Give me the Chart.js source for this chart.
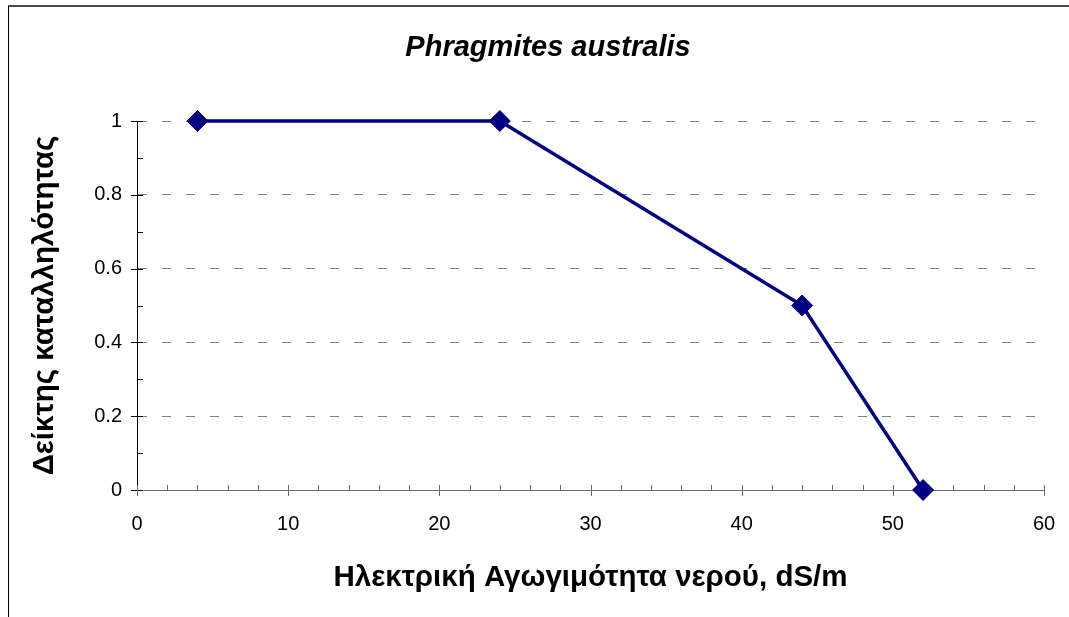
<!DOCTYPE html>
<html>
<head>
<meta charset="utf-8">
<script src="https://cdn.jsdelivr.net/npm/chart.js@4"></script>
<style>
  html, body { margin: 0; padding: 0; background: #fff; overflow: hidden; }
  #wrap { width: 1069px; height: 617px; position: relative; }
</style>
</head>
<body>
<div id="wrap"><canvas id="c" width="1069" height="617"></canvas></div>
<script>
// Salinity tolerance of common reed: suitability index vs. water conductivity
const conductivity = [4, 24, 44, 52];      // dS/m
const suitability  = [1, 1, 0.5, 0];       // index 0..1
const xTickValues  = [0, 10, 20, 30, 40, 50, 60];
const yTickValues  = [0, 0.2, 0.4, 0.6, 0.8, 1];
const yTickLabels  = ['0', '0.2', '0.4', '0.6', '0.8', '1'];
const chartTitle   = 'Phragmites australis';
const yAxisTitle   = 'Δείκτης καταλληλότητας';
const xAxisTitle   = 'Ηλεκτρική Αγωγιμότητα νερού, dS/m';

const FONT = '"Liberation Sans", Arial, sans-serif';

// White background, the outer frame and the italic title
const framePlugin = {
  id: 'frame',
  beforeDraw(chart) {
    const ctx = chart.ctx;
    ctx.save();
    ctx.fillStyle = '#ffffff';
    ctx.fillRect(0, 0, chart.width, chart.height);
    ctx.fillStyle = '#4a4a4a';
    ctx.fillRect(8, 5, chart.width - 8, 2);
    ctx.fillStyle = '#000000';
    ctx.fillRect(8, 6, 1, chart.height - 6);
    ctx.restore();
  },
  afterDraw(chart) {
    const ctx = chart.ctx;
    ctx.save();
    ctx.fillStyle = '#000000';
    ctx.font = 'italic bold 29px ' + FONT;
    ctx.textAlign = 'center';
    ctx.textBaseline = 'middle';
    ctx.fillText(chartTitle, 548, 48);
    ctx.restore();
  }
};

// Major (crossing) and minor (inside) tick marks on both axes
const tickMarks = {
  id: 'tickMarks',
  beforeDatasetsDraw(chart) {
    const ctx = chart.ctx;
    const xs = chart.scales.x, ys = chart.scales.y;
    const x0 = xs.getPixelForValue(xs.min);
    const y0 = ys.getPixelForValue(ys.min);
    ctx.save();
    ctx.lineWidth = 1;
    // y axis
    ctx.strokeStyle = '#000000';
    ctx.beginPath();
    for (let v = 0; v <= 10; v++) {
      const y = Math.round(ys.getPixelForValue(v / 10)) + 0.5;
      if (v % 2 === 0) { ctx.moveTo(x0 - 6, y); ctx.lineTo(x0 + 6, y); }
      else { ctx.moveTo(x0, y); ctx.lineTo(x0 + 6, y); }
    }
    ctx.stroke();
    // x axis
    ctx.strokeStyle = '#6e6e6e';
    ctx.beginPath();
    for (let v = 0; v <= 60; v += 2) {
      const x = Math.round(xs.getPixelForValue(v)) + 0.5;
      if (v % 10 === 0) { ctx.moveTo(x, y0 - 5); ctx.lineTo(x, y0 + 6); }
      else { ctx.moveTo(x, y0 - 5); ctx.lineTo(x, y0); }
    }
    ctx.stroke();
    ctx.restore();
  }
};

new Chart(document.getElementById('c'), {
  type: 'line',
  data: {
    datasets: [{
      data: conductivity.map((x, i) => ({ x, y: suitability[i] })),
      borderColor: '#000080',
      backgroundColor: '#000080',
      borderWidth: 3.5,
      pointStyle: 'rectRot',
      pointRadius: 10.5,
      pointBorderWidth: 1,
      pointBorderColor: '#000080',
      pointBackgroundColor: '#000080',
      tension: 0,
      fill: false,
      clip: false
    }]
  },
  options: {
    responsive: false,
    animation: false,
    events: [],
    layout: { padding: { left: 0, right: 25, top: 121, bottom: 0 } },
    plugins: {
      legend: { display: false },
      title: { display: false },
      tooltip: { enabled: false }
    },
    scales: {
      x: {
        type: 'linear',
        min: 0, max: 60,
        afterBuildTicks(scale) { scale.ticks = xTickValues.map(v => ({ value: v })); },
        afterFit(scale) {
          scale.height = 127;
          scale.paddingLeft = 0;
          scale.paddingRight = 0;
        },
        grid: { display: false, drawTicks: false },
        border: { display: true, color: '#6e6e6e', width: 1 },
        ticks: {
          color: '#000000',
          padding: 22,
          maxRotation: 0,
          font: { family: FONT, size: 20 }
        },
        title: {
          display: true,
          text: xAxisTitle,
          color: '#000000',
          font: { family: FONT, size: 29.5, weight: 'bold' },
          padding: { top: 0, bottom: 21 }
        }
      },
      y: {
        type: 'linear',
        min: 0, max: 1,
        afterBuildTicks(scale) { scale.ticks = yTickValues.map(v => ({ value: v })); },
        afterFit(scale) {
          scale.width = 137;
          scale.paddingTop = 0;
          scale.paddingBottom = 0;
        },
        grid: {
          drawTicks: false,
          color: ctx => (ctx.tick && ctx.tick.value === 0) ? 'rgba(0,0,0,0)' : '#808080',
          lineWidth: 1
        },
        border: { display: true, color: '#000000', width: 1, dash: [9, 15], dashOffset: 0 },
        ticks: {
          color: '#000000',
          padding: 15,
          font: { family: FONT, size: 20 },
          callback: (v) => yTickLabels[yTickValues.indexOf(v)]
        },
        title: {
          display: true,
          text: yAxisTitle,
          color: '#000000',
          font: { family: FONT, size: 29.5, weight: 'bold' },
          padding: { top: 27, bottom: 0 }
        }
      }
    }
  },
  plugins: [framePlugin, tickMarks]
});
</script>
</body>
</html>
